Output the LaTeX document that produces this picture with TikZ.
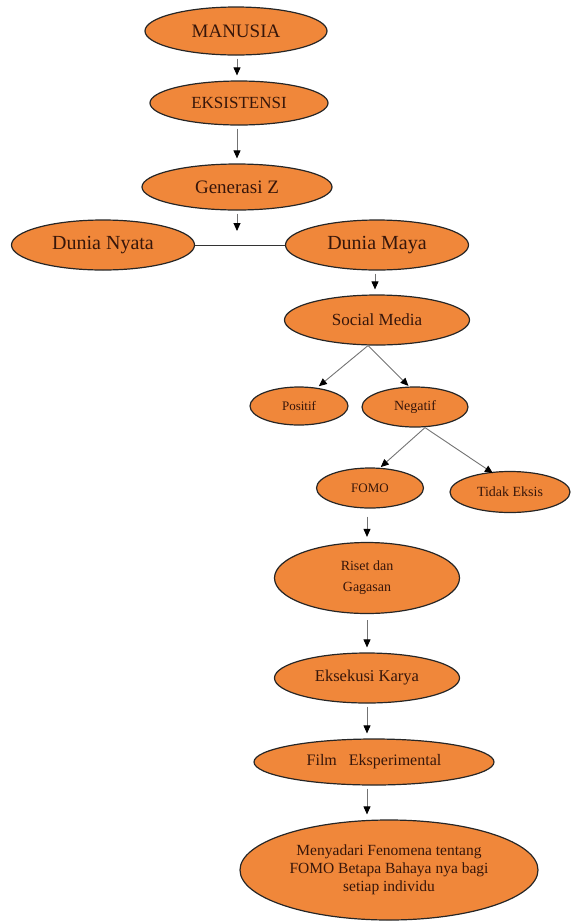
\documentclass[tikz,border=0pt]{standalone}
\usepackage{fontspec}
\setmainfont{Liberation Serif}
\usetikzlibrary{shapes.geometric,arrows.meta}
\definecolor{fillor}{RGB}{240,135,58}
\definecolor{txt}{RGB}{55,22,10}
\definecolor{lin}{RGB}{115,115,115}
\newcommand{\fs}[2]{\fontsize{#1}{#2}\selectfont}
\begin{document}
\begin{tikzpicture}[x=1pt,y=-1pt,
  nd/.style 2 args={ellipse, draw=black!85, line width=1.2pt, fill=fillor,
    text=txt, inner sep=0pt, minimum width=#1, minimum height=#2, align=center},
  arr/.style={draw=lin, line width=0.9pt,
    -{Triangle[width=7pt,length=8pt,color=black]},
    shorten <=3pt, shorten >=5pt},
  plain/.style={draw=black!80, line width=1pt}
]
\useasboundingbox (0,0) rectangle (573,922);

\node[nd={182}{48}, font=\fs{19}{22}] (man) at (236,31) {MANUSIA};
\node[nd={178}{44}, font=\fs{17}{20}] (eks) at (239,103) {EKSISTENSI};
\node[nd={190}{46}, font=\fs{19}{22}] (gz) at (237,187) {Generasi Z};
\node[nd={183}{50}, font=\fs{20}{23}] (dn) at (103,245) {Dunia Nyata};
\node[nd={183}{50}, font=\fs{20}{23}] (dm) at (377,245) {Dunia Maya};
\node[nd={185}{50}, font=\fs{17}{20}] (sm) at (377,320) {Social Media};
\node[nd={98}{38}, font=\fs{13}{15}] (pos) at (299,406) {Positif};
\node[nd={106}{40}, font=\fs{14}{16}] (neg) at (415,407) {Negatif};
\node[nd={107}{40}, font=\fs{13}{15}] (fomo) at (370,488) {FOMO};
\node[nd={120}{41}, font=\fs{14}{16}] (te) at (510,492) {Tidak Eksis};
\node[nd={185}{71}, font=\fs{14}{21}] (riset) at (367,578) {Riset dan\\Gagasan};
\node[nd={185}{50}, font=\fs{16.5}{19}] (ek) at (367,678) {Eksekusi Karya};
\node[nd={240}{46}, font=\fs{16}{19}] (film) at (374,762) {Film\hspace{0.5em} Eksperimental};
\node[nd={298}{100}, font=\fs{15.5}{18}] (fin) at (389,870)
  {Menyadari Fenomena tentang\\FOMO Betapa Bahaya nya bagi\\setiap individu};

\coordinate (gzend) at (237,236);
\coordinate (smb) at ([xshift=-9pt]sm.south);
\coordinate (negb) at ([xshift=10pt]neg.south);

\draw[arr] ([xshift=1pt]man.south) -- ([xshift=1pt]man.south |- eks.north);
\draw[arr] ([xshift=-2pt]eks.south) -- ([xshift=-2pt]eks.south |- gz.north);
\draw[arr] (gz.south) -- (gzend);
\draw[plain] (dn.east) -- (dm.west);
\draw[arr] ([xshift=-2pt]dm.south) -- ([xshift=-2pt]dm.south |- sm.north);
\draw[arr, shorten <=0pt] (smb) -- ([xshift=16pt,yshift=-3pt]pos.north);
\draw[arr, shorten <=0pt] (smb) -- ([xshift=-3pt,yshift=-3pt]neg.north);
\draw[arr, shorten <=0pt] (negb) -- ([xshift=7pt,yshift=-3pt]fomo.north);
\draw[arr, shorten <=0pt] (negb) -- ([xshift=-13pt,yshift=-5pt]te.north);
\draw[arr, shorten <=8pt] (riset.north |- fomo.south) -- (riset.north);
\draw[arr, shorten <=6pt] (riset.south) -- (ek.north);
\draw[arr] (ek.south) -- (ek.south |- film.north);
\draw[arr] (ek.south |- film.south) -- (ek.south |- fin.north);
\end{tikzpicture}
\end{document}
